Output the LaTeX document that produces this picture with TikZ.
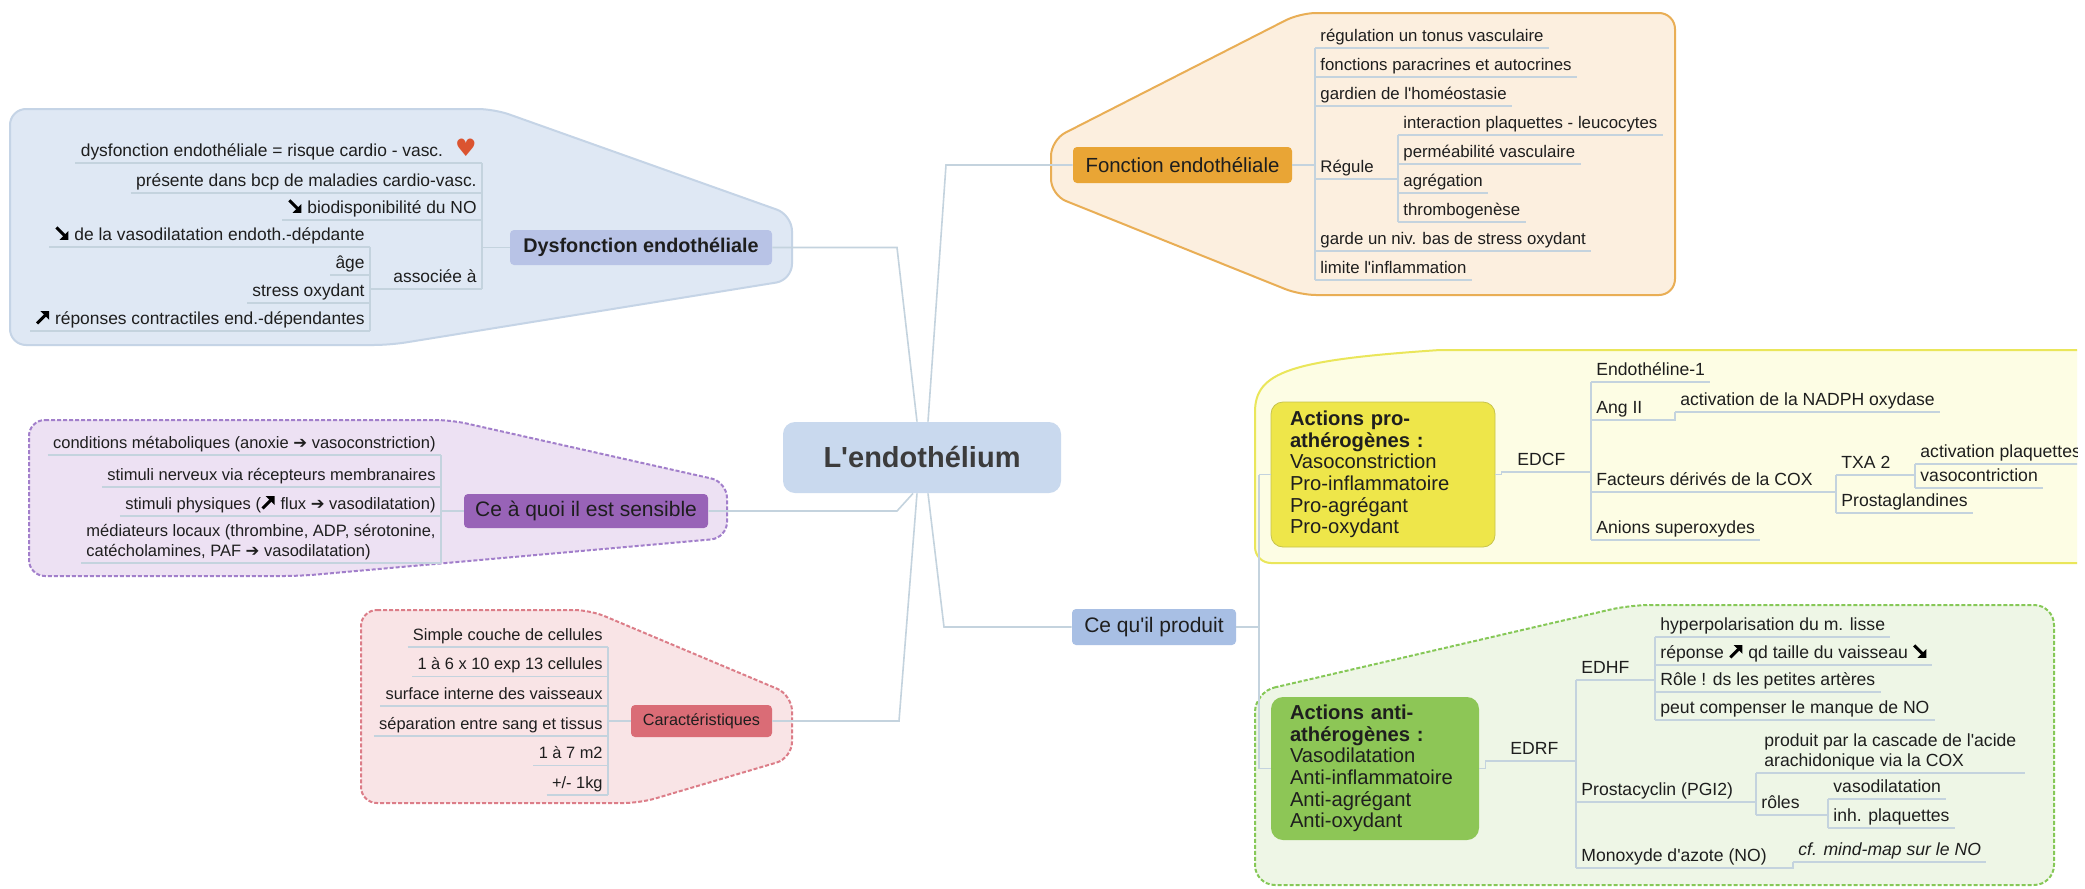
\documentclass[tikz,border=0pt]{standalone}
\usepackage{fontspec}
\setmainfont{Liberation Sans}[Ligatures=TeXOff]
\newfontfamily\mmdejavu{DejaVu Sans}
\usetikzlibrary{calc}
\definecolor{lnC}{HTML}{C4D3DE}
\definecolor{txtC}{HTML}{1E1E1E}
\definecolor{bluF}{HTML}{DFE8F4}
\definecolor{bluD}{HTML}{C5D4E6}
\definecolor{dysF}{HTML}{B8C3E6}
\definecolor{cenF}{HTML}{C9D9EE}
\definecolor{cenT}{HTML}{3C3C3C}
\definecolor{cqpF}{HTML}{A8BFE4}
\definecolor{purF}{HTML}{EDE1F3}
\definecolor{purD}{HTML}{A27FCB}
\definecolor{purB}{HTML}{9863B7}
\definecolor{pinF}{HTML}{F9E4E6}
\definecolor{pinD}{HTML}{DC7D88}
\definecolor{pinB}{HTML}{DA6C76}
\definecolor{oraF}{HTML}{FCEFDF}
\definecolor{oraD}{HTML}{E9AE55}
\definecolor{oraB}{HTML}{E9A535}
\definecolor{yelF}{HTML}{FDFDE4}
\definecolor{yelD}{HTML}{EAE65A}
\definecolor{yelB}{HTML}{EEE64A}
\definecolor{greF}{HTML}{EEF6E6}
\definecolor{greD}{HTML}{86C857}
\definecolor{greB}{HTML}{8DC656}
\definecolor{heartC}{HTML}{DB5430}
\newcommand\mmCenter{\fontsize{14.5pt}{17pt}\selectfont\bfseries}
\newcommand\mmDys{\fontsize{9.9pt}{12pt}\selectfont\bfseries}
\newcommand\mmBlue{\fontsize{8.7pt}{10.5pt}\selectfont}
\newcommand\mmPur{\fontsize{8.25pt}{10pt}\selectfont}
\newcommand\mmPurBox{\fontsize{10.5pt}{12pt}\selectfont}
\newcommand\mmPink{\fontsize{8.2pt}{10pt}\selectfont}
\newcommand\mmPinkBox{\fontsize{8.1pt}{10pt}\selectfont}
\newcommand\mmOra{\fontsize{8.4pt}{10pt}\selectfont}
\newcommand\mmOraBox{\fontsize{10.2pt}{12pt}\selectfont}
\newcommand\mmCqp{\fontsize{10.5pt}{12pt}\selectfont}
\newcommand\mmAct{\fontsize{10.1pt}{10.8pt}\selectfont}
\newcommand\mmYG{\fontsize{8.8pt}{10pt}\selectfont}
\newcommand\mmarr[1]{{\mmdejavu #1}}
\newcommand\mmSE{\tikz[x=1pt,y=1pt,baseline=0pt]{\draw[line width=1.5pt,black] (0.6,6.4) -- (4.6,2.4); \fill[black] (6.6,0.2) -- (2.2,0.2) -- (6.6,4.6) -- cycle;}}
\newcommand\mmNE{\tikz[x=1pt,y=1pt,baseline=0pt]{\draw[line width=1.5pt,black] (0.6,0.4) -- (4.6,4.4); \fill[black] (6.6,6.6) -- (2.2,6.6) -- (6.6,2.2) -- cycle;}}
\begin{document}
\begin{tikzpicture}[x=0.5pt,y=-0.5pt,
  ln/.style={draw=lnC, line width=0.8pt},
  item/.style={inner xsep=2.5pt, inner ysep=1.2pt, text height=6.5pt, text depth=2pt, text=txtC,
    append after command={(\tikzlastnode.south west) edge[ln] (\tikzlastnode.south east)}},
  multi/.style={inner xsep=2.5pt, inner ysep=1.2pt, align=left, text=txtC,
    append after command={(\tikzlastnode.south west) edge[ln] (\tikzlastnode.south east)}},
  box/.style={inner sep=0pt, align=center, text=txtC},
  bubble/.style={line width=1pt, rounded corners=8pt},
  dashb/.style={dash pattern=on 2pt off 1pt}
]
\useasboundingbox (0,0) rectangle (2085,889);
\fill[white] (0,0) rectangle (2085,889);

% ---------- bubbles ----------
\path[bubble, fill=bluF, draw=bluD] (10,109) -- (494,109) -- (792,215) -- (792,280) -- (390,345) -- (10,345) -- cycle;
\path[bubble, dashb, fill=purF, draw=purD] (29,420) -- (451,420) -- (727,482) -- (727,538) -- (300,576) -- (29,576) -- cycle;
\path[bubble, dashb, fill=pinF, draw=pinD] (361,610) -- (590,610) -- (792,695) -- (792,758) -- (640,803) -- (361,803) -- cycle;
\path[bubble, fill=oraF, draw=oraD] (1300,13) -- (1675,13) -- (1675,295) -- (1300,295) -- (1051,195) -- (1051,140) -- cycle;
\path[bubble, dashb, fill=greF, draw=greD, rounded corners=10pt] (1255,692) -- (1630,605) -- (2054,605) -- (2054,885) -- (1255,885) -- cycle;

% ---------- central and main nodes ----------
\node[box, fill=cenF, rounded corners=6pt, minimum width=139pt, minimum height=35.5pt, font=\mmCenter, text=cenT] (cen) at (922,457.5) {L'endothélium};
\node[box, fill=dysF, rounded corners=2pt, minimum width=131pt, minimum height=17.5pt, font=\mmDys] (dys) at (641,247.5) {Dysfonction endothéliale};
\node[box, fill=purB, rounded corners=2pt, minimum width=122pt, minimum height=17pt, font=\mmPurBox] (sens) at (586,511) {Ce à quoi il est sensible};
\node[box, fill=pinB, rounded corners=2pt, minimum width=70.5pt, minimum height=16pt, font=\mmPinkBox] (car) at (701.5,721) {Caractéristiques};
\node[box, fill=oraB, rounded corners=2pt, minimum width=109.5pt, minimum height=18pt, font=\mmOraBox] (fon) at (1182.5,165) {Fonction endothéliale};
\node[box, fill=cqpF, rounded corners=2pt, minimum width=82pt, minimum height=18pt, font=\mmCqp] (cqp) at (1154,627) {Ce qu'il produit};

% ---------- blue children ----------
\begin{scope}[every node/.append style={font=\mmBlue}]
\node[item, anchor=south east] (b1) at (482,163) {dysfonction endothéliale = risque cardio - vasc.\hspace{6pt}{\color{heartC}\mmdejavu\fontsize{12pt}{12pt}\selectfont ♥}};
\node[item, anchor=south east] (b2) at (482,193) {présente dans bcp de maladies cardio-vasc.};
\node[item, anchor=south east] (b3) at (482,220) {\mmSE\hspace{3pt}biodisponibilité du NO};
\node[item, anchor=south east] (assoc) at (482,289) {associée à};
\node[item, anchor=south east] (b5) at (370,247) {\mmSE\hspace{3pt}de la vasodilatation endoth.-dépdante};
\node[item, anchor=south east] (b6) at (370,275) {âge};
\node[item, anchor=south east] (b7) at (370,303) {stress oxydant};
\node[item, anchor=south east] (b8) at (370,331) {\mmNE\hspace{3pt}réponses contractiles end.-dépendantes};
\end{scope}
\draw[ln] (b1.south east) -- (assoc.south east);
\draw[ln] (dys.west) -- (dys.west -| b1.south east);
\draw[ln] (b5.south east) -- (b8.south east);
\draw[ln] (assoc.south west) -- (assoc.south west -| b5.south east);

% ---------- purple children ----------
\begin{scope}[every node/.append style={font=\mmPur}]
\node[item, anchor=south east] (p1) at (441,455) {conditions métaboliques (anoxie \mmarr{➔} vasoconstriction)};
\node[item, anchor=south east] (p2) at (441,487) {stimuli nerveux via récepteurs membranaires};
\node[item, anchor=south east] (p3) at (441,516) {stimuli physiques (\mmNE\hspace{3pt}flux \mmarr{➔} vasodilatation)};
\node[multi, anchor=south east] (p4) at (441,563) {médiateurs locaux (thrombine, ADP, sérotonine,\\catécholamines, PAF \mmarr{➔} vasodilatation)};
\end{scope}
\draw[ln] (p1.south east) -- (p4.south east);
\draw[ln] (sens.west) -- (sens.west -| p1.south east);

% ---------- pink children ----------
\begin{scope}[every node/.append style={font=\mmPink}]
\node[item, anchor=south east] (k1) at (608,647) {Simple couche de cellules};
\node[item, anchor=south east] (k2) at (608,676.6) {1 à 6 x 10 exp 13 cellules};
\node[item, anchor=south east] (k3) at (608,706.2) {surface interne des vaisseaux};
\node[item, anchor=south east] (k4) at (608,735.8) {séparation entre sang et tissus};
\node[item, anchor=south east] (k5) at (608,765.4) {1 à 7 m2};
\node[item, anchor=south east] (k6) at (608,795) {+/- 1kg};
\end{scope}
\draw[ln] (k1.south east) -- (k6.south east);
\draw[ln] (car.west) -- (car.west -| k1.south east);

% ---------- orange children ----------
\begin{scope}[every node/.append style={font=\mmOra}]
\node[item, anchor=south west] (o1) at (1315,48) {régulation un tonus vasculaire};
\node[item, anchor=south west] (o2) at (1315,77) {fonctions paracrines et autocrines};
\node[item, anchor=south west] (o3) at (1315,106) {gardien de l'homéostasie};
\node[item, anchor=south west] (reg) at (1315,179) {Régule};
\node[item, anchor=south west] (r1) at (1398,135) {interaction plaquettes - leucocytes};
\node[item, anchor=south west] (r2) at (1398,164) {perméabilité vasculaire};
\node[item, anchor=south west] (r3) at (1398,193) {agrégation};
\node[item, anchor=south west] (r4) at (1398,222) {thrombogenèse};
\node[item, anchor=south west] (o5) at (1315,251) {garde un niv. bas de stress oxydant};
\node[item, anchor=south west] (o6) at (1315,280) {limite l'inflammation};
\end{scope}
\draw[ln] (o1.south west) -- (o6.south west);
\draw[ln] (fon.east) -- (fon.east -| o1.south west);
\draw[ln] (reg.south east) -- (r1.south west |- reg.south east);
\draw[ln] (r1.south west) -- (r4.south west);

% ---------- yellow region ----------
\begin{scope}
\clip (0,0) rectangle (2077,889);
\path[fill=yelF, draw=yelD, line width=1pt] (2095,350) -- (1440,350) .. controls (1290,360) and (1255,372) .. (1255,412) [rounded corners=8pt] -- (1255,563) -- (2095,563);
\node[box, fill=yelB, draw=yelD!85!black, line width=0.4pt, rounded corners=6pt, minimum width=112pt, minimum height=72.5pt, text width=93pt, inner xsep=9.5pt, align=left, font=\mmAct] (ybox) at (1383,474.5) {\textbf{Actions pro-}\\\textbf{athérogènes :}\\Vasoconstriction\\Pro-inflammatoire\\Pro-agrégant\\Pro-oxydant};
\begin{scope}[every node/.append style={font=\mmYG}]
\node[item, anchor=south west] (edcf) at (1512,472) {EDCF};
\node[item, anchor=south west] (e1) at (1591,382) {Endothéline-1};
\node[item, anchor=south west] (e2) at (1591,420) {Ang II};
\node[item, anchor=south west] (nadph) at (1675,412) {activation de la NADPH oxydase};
\node[item, anchor=south west] (e3) at (1591,492) {Facteurs dérivés de la COX};
\node[item, anchor=south west] (txa) at (1836,475) {TXA 2};
\node[item, anchor=south west] (ap) at (1915,464) {activation plaquettes};
\node[item, anchor=south west] (vc) at (1915,488) {vasocontriction};
\node[item, anchor=south west] (prost) at (1836,513) {Prostaglandines};
\node[item, anchor=south west] (e4) at (1591,540) {Anions superoxydes};
\end{scope}
\end{scope}
\draw[ln] (ybox.east) -- ++(3pt,0) |- (edcf.south west);
\draw[ln] (edcf.south east) -- (e1.south west |- edcf.south east);
\draw[ln] (e1.south west) -- (e4.south west);
\draw[ln] (e2.south east) -| (nadph.south west);
\draw[ln] (e3.south east) -- (txa.south west |- e3.south east);
\draw[ln] (txa.south west) -- (prost.south west);
\draw[ln] (txa.south east) -- (ap.south west |- txa.south east);
\draw[ln] (ap.south west) -- (vc.south west);

% ---------- green region ----------
\node[box, fill=greB, rounded corners=6pt, minimum width=104pt, minimum height=71.5pt, text width=85pt, inner xsep=9.5pt, align=left, font=\mmAct] (gbox) at (1375,768.5) {\textbf{Actions anti-}\\\textbf{athérogènes :}\\Vasodilatation\\Anti-inflammatoire\\Anti-agrégant\\Anti-oxydant};
\begin{scope}[every node/.append style={font=\mmYG}]
\node[item, anchor=south west] (edrf) at (1505,761) {EDRF};
\node[item, anchor=south west] (g1) at (1576,680) {EDHF};
\node[item, anchor=south west] (h1) at (1655,637) {hyperpolarisation du m. lisse};
\node[item, anchor=south west] (h2) at (1655,665) {réponse \mmNE\hspace{3pt}qd taille du vaisseau \mmSE};
\node[item, anchor=south west] (h3) at (1655,692) {Rôle ! ds les petites artères};
\node[item, anchor=south west] (h4) at (1655,720) {peut compenser le manque de NO};
\node[item, anchor=south west] (g2) at (1576,802) {Prostacyclin (PGI2)};
\node[multi, anchor=south west, inner xsep=4pt] (pr1) at (1756,773) {produit par la cascade de l'acide\\arachidonique via la COX};
\node[item, anchor=south west] (pr2) at (1756,815) {rôles};
\node[item, anchor=south west] (v1) at (1828,799) {vasodilatation};
\node[item, anchor=south west] (v2) at (1828,828) {inh. plaquettes};
\node[item, anchor=south west] (g3) at (1576,868) {Monoxyde d'azote (NO)};
\node[item, anchor=south west] (cf) at (1793,862) {\textit{cf. mind-map sur le NO}};
\end{scope}
\draw[ln] (gbox.east) -- ++(3pt,0) |- (edrf.south west);
\draw[ln] (edrf.south east) -- (g1.south west |- edrf.south east);
\draw[ln] (g1.south west) -- (g3.south west);
\draw[ln] (g1.south east) -- (h1.south west |- g1.south east);
\draw[ln] (h1.south west) -- (h4.south west);
\draw[ln] (g2.south east) -- (pr1.south west |- g2.south east);
\draw[ln] (pr1.south west) -- (pr2.south west);
\draw[ln] (pr2.south east) -- (v1.south west |- pr2.south east);
\draw[ln] (v1.south west) -- (v2.south west);
\draw[ln] (g3.south east) -| (cf.south west);

% ---------- Ce qu'il produit connectors ----------
\coordinate (jx) at (1259,627);
\draw[ln] (cqp.east) -- (jx);
\draw[ln] (ybox.west -| jx) -- (gbox.west -| jx);
\draw[ln] (ybox.west -| jx) -- (ybox.west);
\draw[ln] (gbox.west -| jx) -- (gbox.west);

% ---------- central connectors ----------
\draw[ln] (dys.east) -- (897,247.5) -- ([xshift=-2.5pt]cen.north);
\draw[ln] (fon.west) -- (946,165) -- ([xshift=3pt]cen.north);
\draw[ln] (sens.east) -- (897,511) -- ([xshift=-4.5pt]cen.south);
\draw[ln] (car.east) -- (899,721) -- ([xshift=-2.5pt]cen.south);
\draw[ln] (cqp.west) -- (944,627) -- ([xshift=3pt]cen.south);
\end{tikzpicture}
\end{document}
